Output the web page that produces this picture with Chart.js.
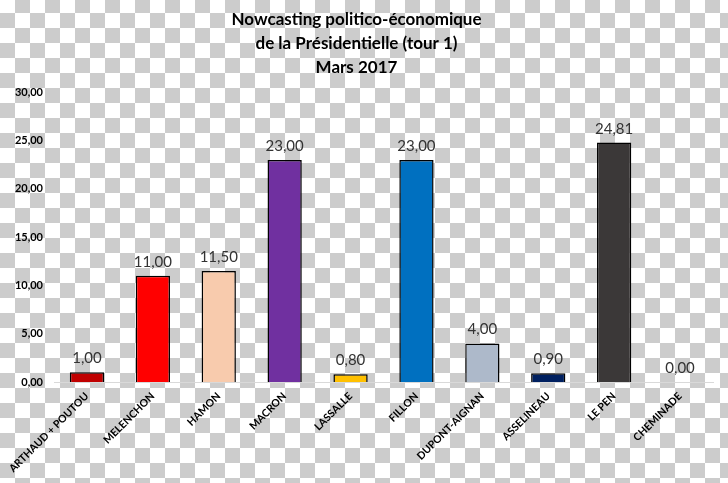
<!DOCTYPE html>
<html>
<head>
<meta charset="utf-8">
<script src="https://cdn.jsdelivr.net/npm/chart.js@4/dist/chart.umd.min.js"></script>
<style>
  html, body { margin: 0; padding: 0; }
  body {
    width: 728px; height: 483px; overflow: hidden;
    background: repeating-conic-gradient(#cccccc 0 25%, #ffffff 0 50%) 0 -2px / 30px 30px;
  }
  canvas { display: block; }
</style>
</head>
<body>
<canvas id="c" width="728" height="483"></canvas>
<script>
const titleLines = ['Nowcasting politico-économique', 'de la Présidentielle (tour 1)', 'Mars 2017'];
const candidates = ['ARTHAUD + POUTOU', 'MELENCHON', 'HAMON', 'MACRON', 'LASSALLE', 'FILLON', 'DUPONT-AIGNAN', 'ASSELINEAU', 'LE PEN', 'CHEMINADE'];
const scores = [1.00, 11.00, 11.50, 23.00, 0.80, 23.00, 4.00, 0.90, 24.81, 0.00];
const barColors = ['#C00000', '#FF0000', '#F8CBAD', '#7030A0', '#FFC000', '#0070C0', '#ADB9CA', '#002060', '#3B3838', '#A0A0A0'];
const yTickValues = [0, 5, 10, 15, 20, 25, 30];

const fmt = v => v.toFixed(2).replace('.', ',');

const valueLabels = {
  id: 'valueLabels',
  afterDatasetsDraw(chart) {
    const ctx = chart.ctx;
    const meta = chart.getDatasetMeta(0);
    ctx.save();
    ctx.font = '15px Lato';
    ctx.fillStyle = '#333333';
    ctx.textAlign = 'center';
    ctx.textBaseline = 'alphabetic';
    meta.data.forEach((el, i) => {
      ctx.fillText(fmt(scores[i]), el.x, el.y - 9);
    });
    ctx.restore();
  }
};

new Chart(document.getElementById('c'), {
  type: 'bar',
  data: {
    labels: candidates,
    datasets: [{
      data: scores,
      backgroundColor: barColors,
      borderColor: '#000000',
      borderWidth: 1.5,
      borderSkipped: 'bottom',
      categoryPercentage: 1,
      barPercentage: 0.52
    }]
  },
  options: {
    responsive: false,
    devicePixelRatio: 1,
    animation: false,
    layout: { padding: { left: 0, right: 15, top: 6, bottom: 0 } },
    plugins: {
      legend: { display: false },
      tooltip: { enabled: false },
      title: {
        display: true,
        text: titleLines,
        color: '#000000',
        font: { family: 'Lato', size: 17, weight: 'bold', lineHeight: 1.42 },
        padding: { top: 1, bottom: 13 }
      }
    },
    scales: {
      x: {
        grid: { display: false, drawTicks: false },
        border: { display: true, color: '#d9d9d9', width: 1 },
        ticks: {
          color: '#000000',
          font: { family: 'Lato', size: 10.5, weight: 'bold' },
          maxRotation: 45,
          minRotation: 45,
          padding: 8,
          autoSkip: false
        },
        afterFit(scale) {
          scale.height = 101;
          scale.paddingLeft = 0;
          scale.paddingRight = 0;
        }
      },
      y: {
        min: 0,
        max: 30,
        grid: { display: false, drawTicks: false },
        border: { display: false },
        afterBuildTicks(scale) { scale.ticks = yTickValues.map(v => ({ value: v })); },
        ticks: {
          color: '#000000',
          font: { family: 'Lato', size: 11, weight: 'bold' },
          padding: 11,
          callback: v => fmt(v)
        },
        afterFit(scale) { scale.width = 54; }
      }
    }
  },
  plugins: [valueLabels]
});
</script>
</body>
</html>
